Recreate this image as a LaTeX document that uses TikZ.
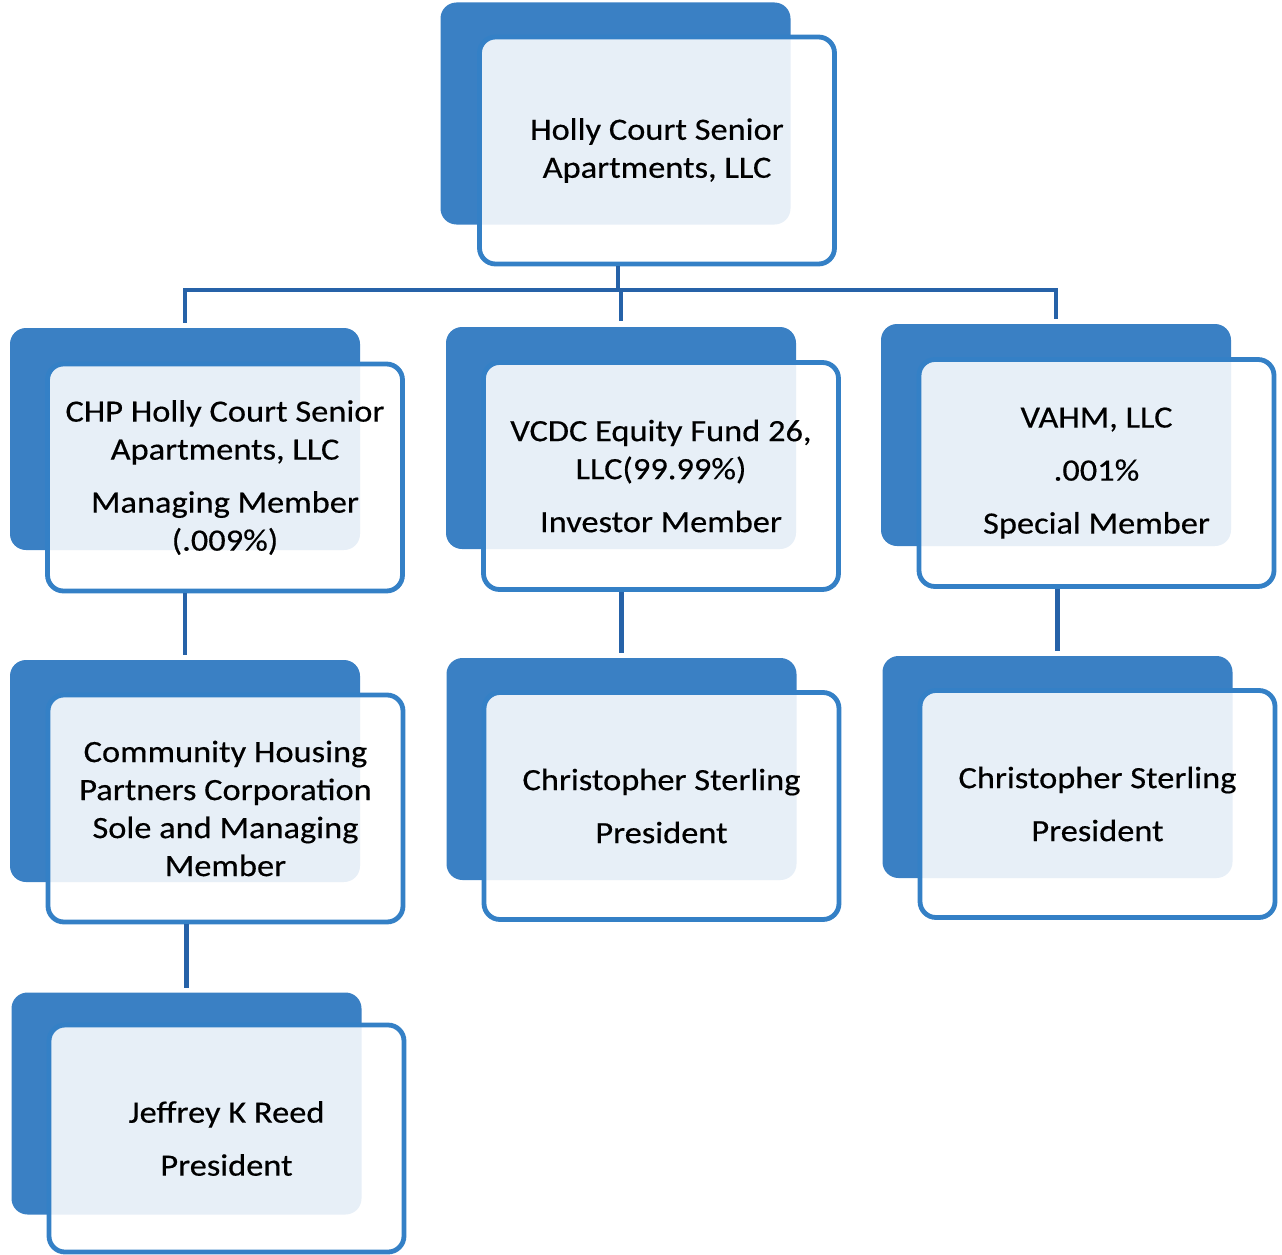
\documentclass[tikz,border=0pt]{standalone}
\usepackage{fontspec}
\setmainfont{Carlito}[FakeStretch=1.11,FakeBold=0.4]
\definecolor{boxblue}{RGB}{58,128,196}
\definecolor{edgeblue}{RGB}{52,128,198}
\definecolor{linkblue}{RGB}{38,98,168}
\begin{document}
\begin{tikzpicture}[x=1pt,y=-1pt,
  back/.style={fill=boxblue, rounded corners=16pt, minimum width=350pt, minimum height=222pt, inner sep=0pt},
  front/.style={draw=edgeblue, line width=4.8pt, fill=white, fill opacity=0.88, text opacity=1,
    rounded corners=16pt, minimum width=355pt, minimum height=227pt, inner sep=0pt,
    align=center, font=\fontsize{31}{38}\selectfont, text=black},
  link/.style={draw=linkblue, line width=4.5pt}]
\useasboundingbox (0,0) rectangle (1282,1255);
% top
\node[back] (tb) at (615.5,113.5) {};
\node[front] (t) at (657,150.5) {Holly Court Senior\\Apartments, LLC};
% row 2
\node[back] (ab) at (185,439) {};
\node[front] (a) at (225,477.5) {CHP Holly Court Senior\\Apartments, LLC\\[15pt]Managing Member\\(.009\%)};
\node[back] (bb) at (621,438) {};
\node[front] (b) at (661,476) {VCDC Equity Fund 26,\\LLC(99.99\%)\\[15pt]Investor Member};
\node[back] (cb) at (1056,435) {};
\node[front] (c) at (1096.5,473) {VAHM, LLC\\[15pt].001\%\\[15pt]Special Member};
% row 3
\node[back] (a2b) at (185,771) {};
\node[front] (a2) at (225.5,808.5) {Community Housing\\Partners Corporation\\Sole and Managing\\Member};
\node[back] (b2b) at (621.5,769) {};
\node[front] (b2) at (661.5,806) {Christopher Sterling\\[15pt]President};
\node[back] (c2b) at (1057.5,767) {};
\node[front] (c2) at (1097.5,804) {Christopher Sterling\\[15pt]President};
% row 4
\node[back] (a3b) at (186.5,1103.5) {};
\node[front] (a3) at (226.5,1138.5) {Jeffrey K Reed\\[15pt]President};
% connectors
\coordinate (bar) at (618,290);
\draw[link] (t.south -| bar) -- (bar);
\draw[link, shorten >=5pt] (bar) -| (ab.north);
\draw[link, shorten >=5pt] (bar) -| (cb.north);
\draw[link, shorten >=6pt] (bar -| bb) -- (bb.north);
\draw[link, shorten >=5pt] (a.south -| a2b) -- (a2b.north);
\draw[link, shorten >=5pt] (b.south -| b2b) -- (b2b.north);
\draw[link, shorten >=5pt] (c.south -| c2b) -- (c2b.north);
\draw[link, shorten >=4pt] (a2.south -| a3b) -- (a3b.north);
\end{tikzpicture}
\end{document}
